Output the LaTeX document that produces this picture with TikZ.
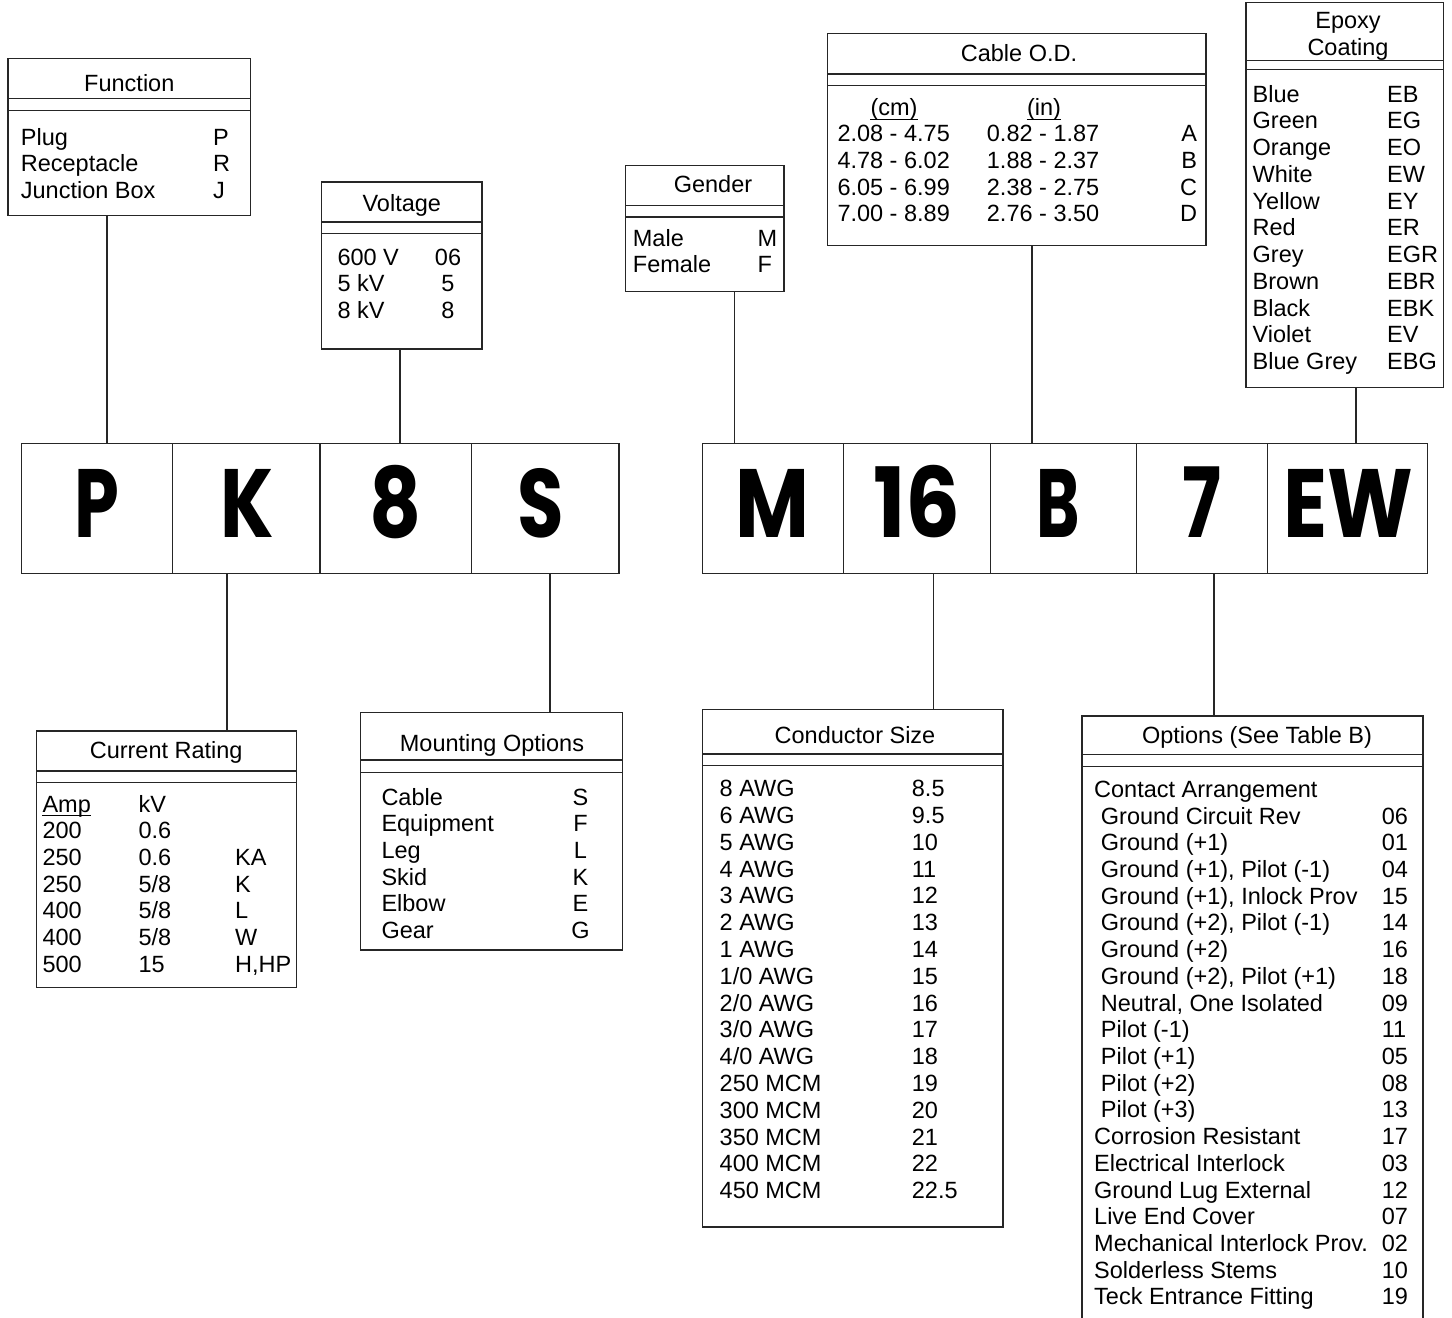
\documentclass[tikz,border=0pt]{standalone}
\usepackage{graphicx}
\usepackage{fontspec}
\setmainfont{Liberation Sans}
\newfontfamily\bigfont{Poppins}
\tikzset{
  ln/.style={draw=black!85, line width=1.1pt},
  tbl/.style={ln, rectangle, anchor=north west, inner sep=0pt, outer sep=0pt},
  tx/.style={inner sep=0pt, font=\fontsize{23.5}{26.7}\selectfont},
  lt/.style={tx, anchor=base west},
  ct/.style={tx, anchor=base},
  rt/.style={tx, anchor=base east},
  codebox/.style={ln, rectangle, anchor=north west, inner sep=0pt, outer sep=0pt, minimum height=130pt},
  big/.style={inner sep=0pt, anchor=base, font=\bigfont\bfseries\fontsize{97}{97}\selectfont},
}
\begin{document}
\begin{tikzpicture}[x=1pt,y=-1pt]
\useasboundingbox (0,0) rectangle (1452,1318);

% ---------- code boxes ----------
\node[codebox, minimum width=151.5pt] (cP) at (21.1,443.3) {};
\node[codebox, minimum width=147.4pt] (cK) at (172.6,443.3) {};
\node[codebox, minimum width=151.5pt] (c8) at (320,443.3) {};
\node[codebox, minimum width=147.5pt] (cS) at (471.5,443.3) {};
\node[codebox, minimum width=141.3pt] (cM) at (702.1,443.3) {};
\node[codebox, minimum width=147.1pt] (c16) at (843.4,443.3) {};
\node[codebox, minimum width=146.1pt] (cB) at (990.5,443.3) {};
\node[codebox, minimum width=131.1pt] (c7) at (1136.6,443.3) {};
\node[codebox, minimum width=159.7pt] (cEW) at (1267.7,443.3) {};
\foreach \n/\t/\s/\dx in {cP/P/0.74/0, cK/K/0.79/1, c8/8/0.83/0, cS/S/0.78/-4, cM/M/0.83/0, c16/16/0.89/0, cB/B/0.68/-5, c7/7/0.75/0, cEW/EW/0.84/1}
  \node[big] (t\n) at ([xshift=\dx pt]\n.center |- 0,537.5) {\scalebox{\s}[1]{\t}};

% ---------- Function ----------
\node[tbl, minimum width=242.7pt, minimum height=157pt] (fn) at (8,58.7) {};
\draw[ln] (fn.west |- 0,98.7) -- (fn.east |- 0,98.7);
\draw[ln] (fn.west |- 0,110.7) -- (fn.east |- 0,110.7);
\node[ct] (fnt) at (129.3,91.7) {Function};
\foreach \a/\b [count=\i from 0] in {Plug/P, Receptacle/R, Junction Box/J} {
  \node[lt] (fna\i) at ({20.7},{145+26.67*\i}) {\a};
  \node[lt] (fnb\i) at ({213},{145+26.67*\i}) {\b};
}

% ---------- Voltage ----------
\node[tbl, minimum width=160.3pt, minimum height=167pt] (vo) at (321.7,182) {};
\draw[ln] (vo.west |- 0,222) -- (vo.east |- 0,222);
\draw[ln] (vo.west |- 0,233.3) -- (vo.east |- 0,233.3);
\node[ct] (vot) at (401.8,211.7) {Voltage};
\foreach \a/\b [count=\i from 0] in {600 V/06, 5 kV/5, 8 kV/8} {
  \node[lt] (voa\i) at ({337.3},{265+26.67*\i}) {\a};
  \node[ct] (vob\i) at ({448},{265+26.67*\i}) {\b};
}

% ---------- Gender ----------
\node[tbl, minimum width=158.3pt, minimum height=126pt] (ge) at (625.7,165.3) {};
\draw[ln] (ge.west |- 0,205.7) -- (ge.east |- 0,205.7);
\draw[ln] (ge.west |- 0,217) -- (ge.east |- 0,217);
\node[ct] (get) at (713,192.7) {Gender};
\foreach \a/\b [count=\i from 0] in {Male/M, Female/F} {
  \node[lt] (gea\i) at ({632.7},{246.7+26*\i}) {\a};
  \node[lt] (geb\i) at ({757.3},{246.7+26*\i}) {\b};
}

% ---------- Cable O.D. ----------
\node[tbl, minimum width=378.7pt, minimum height=212pt] (cod) at (827.3,33.3) {};
\draw[ln] (cod.west |- 0,74) -- (cod.east |- 0,74);
\draw[ln] (cod.west |- 0,85.3) -- (cod.east |- 0,85.3);
\node[ct] (codt) at (1019,61.7) {Cable O.D.};
\node[ct] (codh1) at (894,115.5) {(cm)};
\node[ct] (codh2) at (1044,115.5) {(in)};
\draw[line width=1.1pt] ([yshift=-4pt]codh1.base west) -- ([yshift=-4pt]codh1.base east);
\draw[line width=1.1pt] ([yshift=-4pt]codh2.base west) -- ([yshift=-4pt]codh2.base east);
\foreach \a/\b/\c [count=\i from 0] in {2.08 - 4.75/0.82 - 1.87/A, 4.78 - 6.02/1.88 - 2.37/B, 6.05 - 6.99/2.38 - 2.75/C, 7.00 - 8.89/2.76 - 3.50/D} {
  \node[lt] (coda\i) at ({837.3},{141.7+26.67*\i}) {\a};
  \node[lt] (codb\i) at ({986.7},{141.7+26.67*\i}) {\b};
  \node[rt] (codc\i) at ({1197.3},{141.7+26.67*\i}) {\c};
}

% ---------- Epoxy Coating ----------
\node[tbl, minimum width=197.3pt, minimum height=384.6pt] (ep) at (1246,2.7) {};
\draw[ln] (ep.west |- 0,60.7) -- (ep.east |- 0,60.7);
\draw[ln] (ep.west |- 0,69.3) -- (ep.east |- 0,69.3);
\node[ct] (ept1) at (1348,28.5) {Epoxy};
\node[ct] (ept2) at (1348,55.8) {Coating};
\foreach \a/\b [count=\i from 0] in {Blue/EB, Green/EG, Orange/EO, White/EW, Yellow/EY, Red/ER, Grey/EGR, Brown/EBR, Black/EBK, Violet/EV, Blue Grey/EBG} {
  \node[lt] (epa\i) at ({1252.5},{102+26.75*\i}) {\a};
  \node[lt] (epb\i) at ({1387},{102+26.75*\i}) {\b};
}

% ---------- Current Rating ----------
\node[tbl, minimum width=260.2pt, minimum height=256.7pt] (cr) at (36.1,731) {};
\draw[ln] (cr.west |- 0,771) -- (cr.east |- 0,771);
\draw[ln] (cr.west |- 0,782.3) -- (cr.east |- 0,782.3);
\node[ct] (crt) at (166.2,758.3) {Current Rating};
\foreach \a/\b/\c [count=\i from 0] in {Amp/kV/{}, 200/0.6/{}, 250/0.6/KA, 250/{5/8}/K, 400/{5/8}/L, 400/{5/8}/W, 500/15/{H,HP}} {
  \node[lt] (cra\i) at ({42.3},{812.3+26.67*\i}) {\a};
  \node[lt] (crb\i) at ({138.4},{812.3+26.67*\i}) {\b};
  \node[lt] (crc\i) at ({235},{812.3+26.67*\i}) {\c};
}
\draw[line width=1.1pt] ([yshift=-3.5pt]cra0.base west) -- ([yshift=-3.5pt]cra0.base east);

% ---------- Mounting Options ----------
\node[tbl, minimum width=262pt, minimum height=237.3pt] (mo) at (360.7,712.7) {};
\draw[ln] (mo.west |- 0,760) -- (mo.east |- 0,760);
\draw[ln] (mo.west |- 0,772.7) -- (mo.east |- 0,772.7);
\node[ct] (mot) at (492,751.7) {Mounting Options};
\foreach \a/\b [count=\i from 0] in {Cable/S, Equipment/F, Leg/L, Skid/K, Elbow/E, Gear/G} {
  \node[lt] (moa\i) at ({381.3},{805+26.67*\i}) {\a};
  \node[ct] (mob\i) at ({580.5},{805+26.67*\i}) {\b};
}

% ---------- Conductor Size ----------
\node[tbl, minimum width=300.3pt, minimum height=517.7pt] (cs) at (702.7,709.3) {};
\draw[ln] (cs.west |- 0,754) -- (cs.east |- 0,754);
\draw[ln] (cs.west |- 0,765.3) -- (cs.east |- 0,765.3);
\node[ct] (cst) at (855,743.3) {Conductor Size};
\foreach \a/\b [count=\i from 0] in {8 AWG/8.5, 6 AWG/9.5, 5 AWG/10, 4 AWG/11, 3 AWG/12, 2 AWG/13, 1 AWG/14, {1/0 AWG}/15, {2/0 AWG}/16, {3/0 AWG}/17, {4/0 AWG}/18, 250 MCM/19, 300 MCM/20, 350 MCM/21, 400 MCM/22, 450 MCM/22.5} {
  \node[lt] (csa\i) at ({719.5},{796.7+26.8*\i}) {\a};
  \node[lt] (csb\i) at ({911.7},{796.7+26.8*\i}) {\b};
}

% ---------- Options (open at the bottom) ----------
\node[rectangle, anchor=north west, inner sep=0pt, outer sep=0pt, minimum width=341pt, minimum height=602pt] (op) at (1082,716) {};
\draw[ln] (op.south west) -- (op.north west) -- (op.north east) -- (op.south east);
\draw[ln] (op.west |- 0,754.3) -- (op.east |- 0,754.3);
\draw[ln] (op.west |- 0,766.7) -- (op.east |- 0,766.7);
\node[ct] (opt) at (1257,743.3) {Options (See Table B)};
\node[lt] (opa0) at (1094,797.3) {Contact Arrangement};
\foreach \x/\a/\b [count=\i from 1] in {
  1100.7/Ground Circuit Rev/06,
  1100.7/Ground (+1)/01,
  1100.7/{Ground (+1), Pilot (-1)}/04,
  1100.7/{Ground (+1), Inlock Prov}/15,
  1100.7/{Ground (+2), Pilot (-1)}/14,
  1100.7/Ground (+2)/16,
  1100.7/{Ground (+2), Pilot (+1)}/18,
  1100.7/{Neutral, One Isolated}/09,
  1100.7/Pilot (-1)/11,
  1100.7/Pilot (+1)/05,
  1100.7/Pilot (+2)/08,
  1100.7/Pilot (+3)/13,
  1094/Corrosion Resistant/17,
  1094/Electrical Interlock/03,
  1094/Ground Lug External/12,
  1094/Live End Cover/07,
  1094/Mechanical Interlock Prov./02,
  1094/Solderless Stems/10,
  1094/Teck Entrance Fitting/19} {
  \node[lt] (opa\i) at ({\x},{797.3+26.72*\i}) {\a};
  \node[lt] (opb\i) at ({1381.7},{797.3+26.72*\i}) {\b};
}

% ---------- connectors ----------
\draw[ln] (107,0 |- fn.south) -- (107,0 |- cP.north);
\draw[ln] (400,0 |- vo.south) -- (400,0 |- c8.north);
\draw[ln] (227,0 |- cK.south) -- (227,0 |- cr.north);
\draw[ln] (550,0 |- cS.south) -- (550,0 |- mo.north);
\draw[ln] (734.5,0 |- ge.south) -- (734.5,0 |- cM.north);
\draw[ln] (1032,0 |- cod.south) -- (1032,0 |- cB.north);
\draw[ln] (1356,0 |- ep.south) -- (1356,0 |- cEW.north);
\draw[ln] (933.3,0 |- c16.south) -- (933.3,0 |- cs.north);
\draw[ln] (1214,0 |- c7.south) -- (1214,0 |- op.north);
\end{tikzpicture}
\end{document}
